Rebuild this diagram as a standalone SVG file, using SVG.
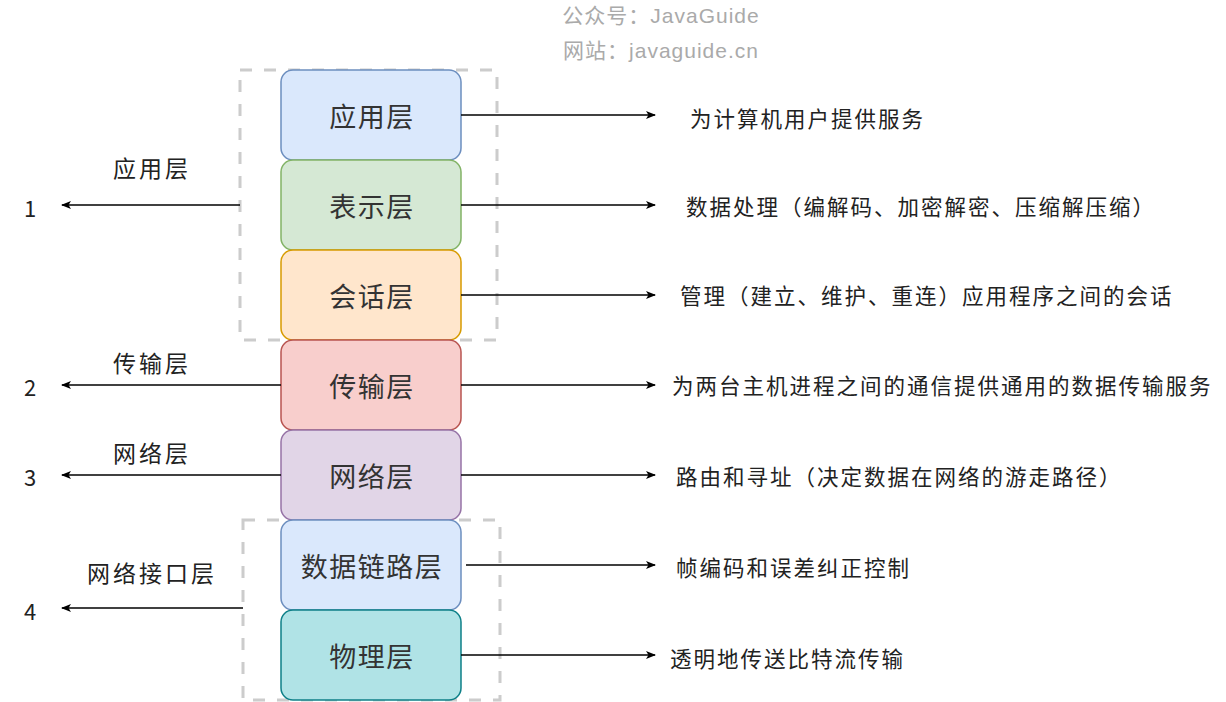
<svg xmlns="http://www.w3.org/2000/svg" width="1226" height="702" viewBox="0 0 1226 702">
<style>
text{font-family:"Noto Sans CJK SC","Liberation Sans",sans-serif;fill:#222}
.n{font-size:27px;letter-spacing:1.5px;fill:#333;text-anchor:middle;dominant-baseline:central}
.d{font-size:21.5px;letter-spacing:2px;dominant-baseline:central}
.l{font-size:23px;letter-spacing:3px;text-anchor:middle;dominant-baseline:central}
.k{font-size:22px;text-anchor:middle;dominant-baseline:central}
.c{stroke:#000;stroke-width:1.3;fill:none;marker-end:url(#a)}
.g{fill:none;stroke:#ccc;stroke-width:3;stroke-dasharray:12 12}
.w{font-size:21px;letter-spacing:1px;fill:#aaa;text-anchor:middle;font-family:"Liberation Sans","Noto Sans CJK SC",sans-serif}
</style>
<defs><marker id="a" markerWidth="10" markerHeight="8" refX="9" refY="4" orient="auto" markerUnits="userSpaceOnUse"><path d="M0,0L10,4L0,8L2.5,4Z" fill="#000"/></marker></defs>
<text class="w" x="661" y="23">公众号：JavaGuide</text>
<text class="w" x="661" y="58">网站：javaguide.cn</text>
<rect class="g" x="240" y="70" width="257" height="270"/>
<rect class="g" x="243" y="520" width="257" height="180"/>
<g id="n1"><rect x="281" y="70" width="180" height="90" rx="12" fill="#dae8fc" stroke="#6c8ebf" stroke-width="1.5"/><text class="n" x="372" y="115">应用层</text></g>
<g id="n2"><rect x="281" y="160" width="180" height="90" rx="12" fill="#d5e8d4" stroke="#82b366" stroke-width="1.5"/><text class="n" x="372" y="205">表示层</text></g>
<g id="n3"><rect x="281" y="250" width="180" height="90" rx="12" fill="#ffe6cc" stroke="#d79b00" stroke-width="1.5"/><text class="n" x="372" y="295">会话层</text></g>
<g id="n4"><rect x="281" y="340" width="180" height="90" rx="12" fill="#f8cecc" stroke="#b85450" stroke-width="1.5"/><text class="n" x="372" y="385">传输层</text></g>
<g id="n5"><rect x="281" y="430" width="180" height="90" rx="12" fill="#e1d5e7" stroke="#9673a6" stroke-width="1.5"/><text class="n" x="372" y="475">网络层</text></g>
<g id="n6"><rect x="281" y="520" width="180" height="90" rx="12" fill="#dae8fc" stroke="#6c8ebf" stroke-width="1.5"/><text class="n" x="372" y="565">数据链路层</text></g>
<g id="n7"><rect x="281" y="610" width="180" height="90" rx="12" fill="#b0e3e6" stroke="#0e8088" stroke-width="1.5"/><text class="n" x="372" y="655">物理层</text></g>
<g id="connectors">
<path class="c" d="M240,205H62"/><path class="c" d="M281,385H62"/><path class="c" d="M281,475H62"/><path class="c" d="M243,608H62"/>
<path class="c" d="M461,115H655"/><path class="c" d="M461,205H655"/><path class="c" d="M461,295H655"/><path class="c" d="M461,385H655"/><path class="c" d="M461,475H655"/><path class="c" d="M466,565H655"/><path class="c" d="M461,655H655"/>
</g>
<g id="labels">
<text class="l" x="152" y="167">应用层</text><text class="l" x="152" y="362">传输层</text><text class="l" x="152" y="452">网络层</text><text class="l" x="152" y="572">网络接口层</text>
<text class="k" x="30" y="207">1</text><text class="k" x="30" y="386">2</text><text class="k" x="30" y="476">3</text><text class="k" x="30" y="610">4</text>
<text class="d" x="690" y="117">为计算机用户提供服务</text>
<text class="d" x="686" y="205">数据处理（编解码、加密解密、压缩解压缩）</text>
<text class="d" x="680" y="294">管理（建立、维护、重连）应用程序之间的会话</text>
<text class="d" x="672" y="384">为两台主机进程之间的通信提供通用的数据传输服务</text>
<text class="d" x="676" y="475">路由和寻址（决定数据在网络的游走路径）</text>
<text class="d" x="676" y="566">帧编码和误差纠正控制</text>
<text class="d" x="670" y="657">透明地传送比特流传输</text>
</g>
</svg>
